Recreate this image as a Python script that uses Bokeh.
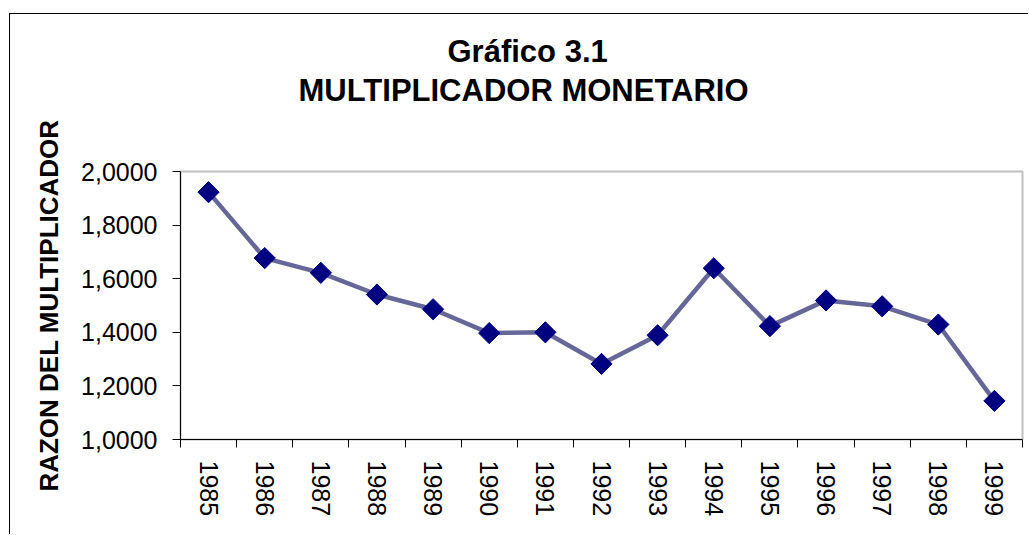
import numpy as np
from bokeh.plotting import figure
from bokeh.models import (FixedTicker, CustomJSTickFormatter, Title, Range1d,
                          BasicTickFormatter)
from bokeh.embed import file_html
from bokeh.resources import INLINE

years = [1985, 1986, 1987, 1988, 1989, 1990, 1991, 1992, 1993, 1994,
         1995, 1996, 1997, 1998, 1999]
values = [1.923, 1.677, 1.622, 1.541, 1.486, 1.397, 1.400, 1.282, 1.389,
          1.639, 1.423, 1.519, 1.497, 1.429, 1.144]
y_ticks = [1.0, 1.2, 1.4, 1.6, 1.8, 2.0]
title_line1 = "Gráfico 3.1"
title_line2 = "MULTIPLICADOR MONETARIO"
y_label = "RAZON DEL MULTIPLICADOR"

FONT = "Liberation Sans"

p = figure(width=1019, height=521, output_backend="svg", toolbar_location=None,
           x_range=Range1d(years[0] - 0.5, years[-1] + 0.5),
           y_range=Range1d(y_ticks[0], y_ticks[-1]),
           min_border_left=170, min_border_right=7,
           min_border_top=157, min_border_bottom=96)
p.margin = (14, 0, 0, 10)
p.styles = {"box-shadow": "-1px -1px 0 0 black"}
p.title = None
p.background_fill_color = "white"
p.border_fill_color = "white"
p.outline_line_color = "#c0c0c0"
p.outline_line_width = 2
p.xgrid.visible = False
p.ygrid.visible = False

# titles: spacer closest to the frame, then the two title lines
spacer = Title(text=" ", text_font_size="1px", standoff=60)
p.add_layout(spacer, "above")
t2 = Title(text=title_line2, align="left", text_font=FONT,
           text_font_size="31px", text_font_style="bold", text_color="black",
           offset=118, standoff=2)
p.add_layout(t2, "above")
t1 = Title(text=title_line1, align="left", text_font=FONT,
           text_font_size="31px", text_font_style="bold", text_color="black",
           offset=267, standoff=2)
p.add_layout(t1, "above")

# x axis: labels at year centres, ticks at category boundaries
xa = p.xaxis[0]
xa.ticker = FixedTicker(ticks=years,
                        minor_ticks=[y - 0.5 for y in years] + [years[-1] + 0.5])
xa.formatter = BasicTickFormatter(use_scientific=False)
xa.major_tick_out = 0
xa.major_tick_in = 0
xa.minor_tick_out = 8
xa.minor_tick_in = 0
xa.minor_tick_line_color = "black"
xa.major_label_orientation = "vertical"
xa.major_label_standoff = 13
xa.major_label_text_font = FONT
xa.major_label_text_font_size = "25px"
xa.major_label_text_color = "black"
xa.axis_line_color = "black"

# y axis
ya = p.yaxis[0]
ya.ticker = FixedTicker(ticks=y_ticks, minor_ticks=[])
ya.formatter = CustomJSTickFormatter(code="return tick.toFixed(4).replace('.', ',');")
ya.major_tick_out = 8
ya.major_tick_in = 0
ya.minor_tick_out = 0
ya.minor_tick_in = 0
ya.major_tick_line_color = "black"
ya.major_label_standoff = 15
ya.major_label_text_font = FONT
ya.major_label_text_font_size = "25px"
ya.major_label_text_color = "black"
ya.axis_line_color = "black"
ya.axis_label = y_label
ya.axis_label_text_font = FONT
ya.axis_label_text_font_size = "26px"
ya.axis_label_text_font_style = "bold"
ya.axis_label_text_color = "black"
ya.axis_label_standoff = 14

# data
p.line(years, values, line_color="#666699", line_width=4.5)
p.scatter(years, values, marker="square", size=15, angle=np.pi / 4,
          fill_color="#000080", line_color="#000080")

open("out.html", "w").write(file_html(p, INLINE))
